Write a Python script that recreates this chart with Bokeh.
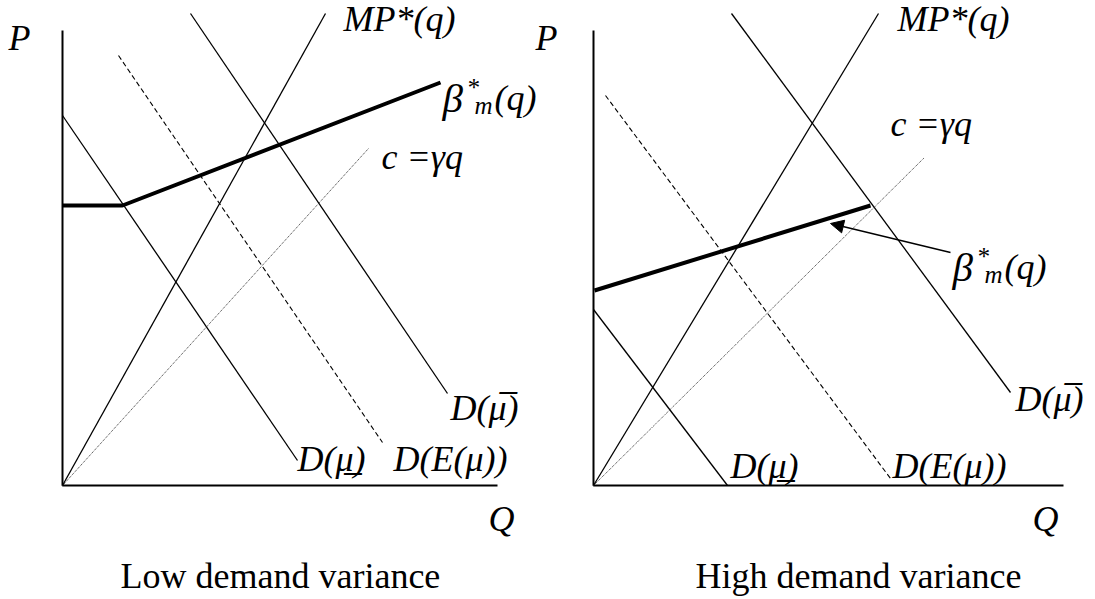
from bokeh.plotting import figure
from bokeh.models import Range1d, Arrow, NormalHead, ColumnDataSource
from bokeh.core.properties import value
from bokeh.embed import file_html
from bokeh.resources import INLINE

# ---------------- data (panel-local Q, P units; origin at axes corner) ----------------
# Left panel: low demand variance
L_axis_q = [0, 0, 435]
L_axis_p = [455, 0, 0]
L_mp_q = [0, 263]
L_mp_p = [0, 472]
L_dbar_q = [128, 385]
L_dbar_p = [472, 92]
L_de_q = [56, 320]
L_de_p = [430, 43]
L_dlow_q = [0, 235]
L_dlow_p = [370, 25]
L_c_q = [0, 306]
L_c_p = [0, 337]
L_beta_q = [0, 60, 378]
L_beta_p = [280, 280, 403]

# Right panel: high demand variance
R_axis_q = [0, 0, 470]
R_axis_p = [455, 0, 0]
R_mp_q = [0, 285]
R_mp_p = [0, 472]
R_dbar_q = [138, 417]
R_dbar_p = [472, 93]
R_de_q = [12, 297]
R_de_p = [390, 7]
R_dlow_q = [0, 134]
R_dlow_p = [176, 0]
R_c_q = [0, 331]
R_c_p = [0, 328]
R_beta_q = [1, 277]
R_beta_p = [195, 280]
R_arrow_q = [357, 237]
R_arrow_p = [233, 262]

captions = ["Low demand variance", "High demand variance"]

# ---------------- layout ----------------
W, H = 1095, 599
PAGE_X0, PAGE_Y0 = 0, 0   # where the figure lands on the page
ORIGIN_L = (62, 485)      # page px of left origin
OFF_R = 531               # right panel origin offset in Q units
TEXT_DY = 10              # compensation for text baseline placement

p = figure(width=W, height=H, output_backend="svg", toolbar_location=None,
           x_range=Range1d(PAGE_X0 - ORIGIN_L[0], PAGE_X0 + W - ORIGIN_L[0]),
           y_range=Range1d(ORIGIN_L[1] - (PAGE_Y0 + H), ORIGIN_L[1] - PAGE_Y0),
           x_axis_location=None, y_axis_location=None, min_border=0,
           outline_line_color=None)
p.grid.visible = False
p.background_fill_color = "white"
p.border_fill_color = "white"


def shift(qs, off):
    return [q + off for q in qs]


for off, ax_q, ax_p, mp_q, mp_p, db_q, db_p, de_q, de_p, dl_q, dl_p, c_q, c_p, b_q, b_p in [
    (0, L_axis_q, L_axis_p, L_mp_q, L_mp_p, L_dbar_q, L_dbar_p, L_de_q, L_de_p,
     L_dlow_q, L_dlow_p, L_c_q, L_c_p, L_beta_q, L_beta_p),
    (OFF_R, R_axis_q, R_axis_p, R_mp_q, R_mp_p, R_dbar_q, R_dbar_p, R_de_q, R_de_p,
     R_dlow_q, R_dlow_p, R_c_q, R_c_p, R_beta_q, R_beta_p),
]:
    p.line(shift(ax_q, off), ax_p, line_color="black", line_width=2)
    p.line(shift(mp_q, off), mp_p, line_color="black", line_width=1.3)
    p.line(shift(db_q, off), db_p, line_color="black", line_width=1.3)
    p.line(shift(dl_q, off), dl_p, line_color="black", line_width=1.3)
    p.line(shift(de_q, off), de_p, line_color="black", line_width=1.1, line_dash="5 3")
    p.line(shift(c_q, off), c_p, line_color="#333333", line_width=1, line_dash="1 1")
    p.line(shift(b_q, off), b_p, line_color="black", line_width=4)

p.add_layout(Arrow(end=NormalHead(size=13, fill_color="black", line_color="black"),
                   x_start=R_arrow_q[0] + OFF_R, y_start=R_arrow_p[0],
                   x_end=R_arrow_q[1] + OFF_R, y_end=R_arrow_p[1],
                   line_color="black", line_width=1.3))


def px(X, Y):
    return X - ORIGIN_L[0], ORIGIN_L[1] - (Y - TEXT_DY)


def add_texts(items, size, style):
    xs, ys, ts = [], [], []
    for t, X, Y in items:
        x, y = px(X, Y)
        xs.append(x)
        ys.append(y)
        ts.append(t)
    src = ColumnDataSource(dict(x=xs, y=ys, t=ts))
    p.text(x="x", y="y", text="t", source=src, text_font=value("Liberation Serif"),
           text_font_size=size, text_font_style=style, text_color="black",
           text_align="left", text_baseline="alphabetic")


big_italic = [
    ("P", 8, 47), ("P", 535, 47),
    ("MP*(q)", 343, 28), ("MP*(q)", 897, 28),
    ("c =\u03b3q", 381, 166), ("c =\u03b3q", 890, 133),
    ("D(\u03bc\u0305)", 450, 417), ("D(\u03bc\u0305)", 1015, 408),
    ("D(\u03bc\u0332)", 297, 468), ("D(\u03bc\u0332)", 730, 475),
    ("D(E(\u03bc))", 393, 468), ("D(E(\u03bc))", 892, 475),
    ("Q", 488, 528), ("Q", 1032, 528),
    ("(q)", 494, 107), ("(q)", 1004, 276),
]
add_texts(big_italic, "36px", "italic")

add_texts([("\u03b2", 442, 107), ("\u03b2", 952, 276)], "41px", "italic")

small_italic = [
    ("*", 466, 97), ("m", 474, 115),
    ("*", 976, 266), ("m", 984, 284),
]
add_texts(small_italic, "25px", "italic")

add_texts([(captions[0], 120, 585), (captions[1], 695, 585)], "36px", "normal")

open("out.html", "w").write(file_html(p, INLINE))
